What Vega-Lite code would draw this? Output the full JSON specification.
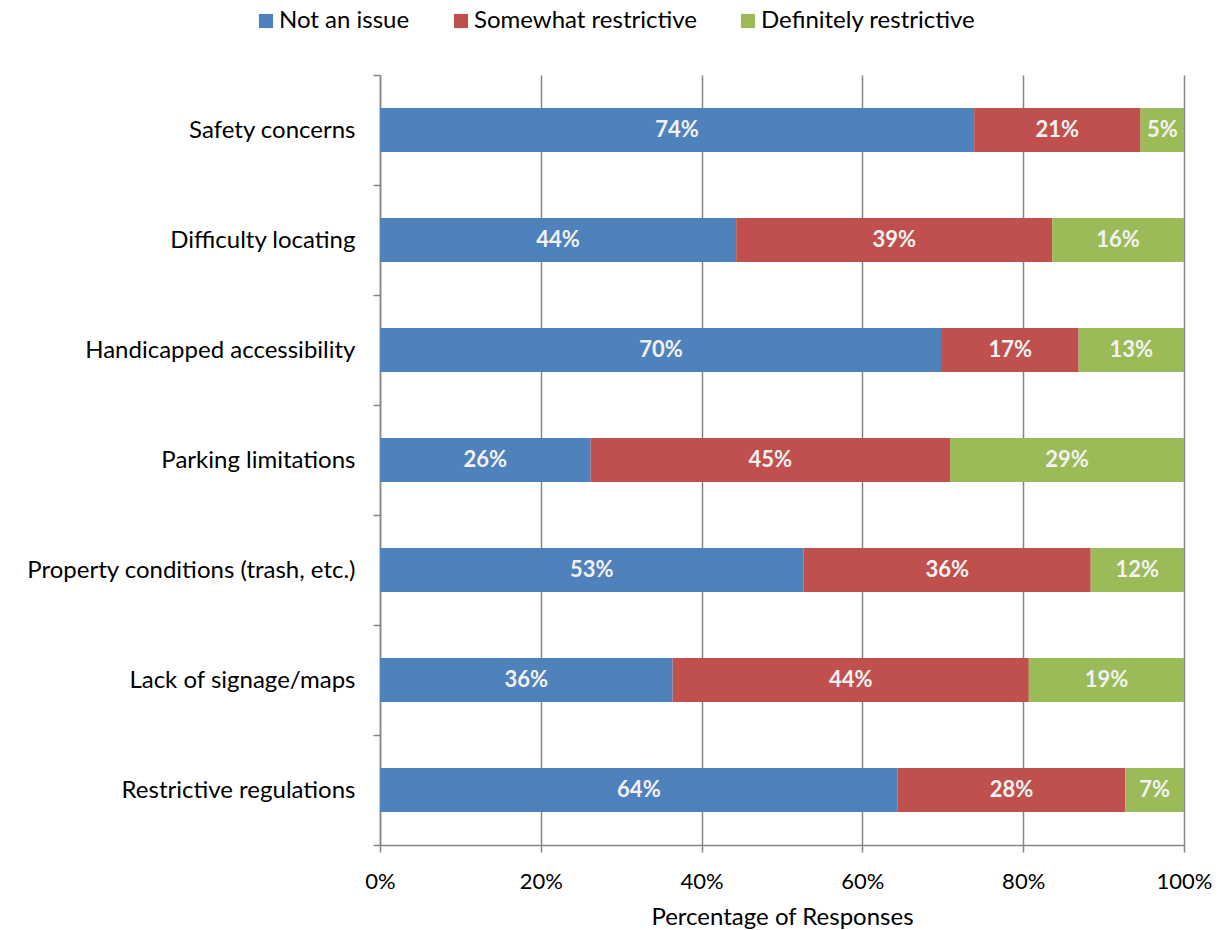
{
  "$schema": "https://vega.github.io/schema/vega-lite/v6.json",
  "autosize": "none",
  "width": 804,
  "height": 770,
  "padding": {"left": 380, "top": 75, "right": 37, "bottom": 85},
  "background": "white",
  "config": {
    "font": "Lato",
    "view": {"stroke": null}
  },
  "data": {
    "values": [
      {"factor": "Safety concerns", "response": "Not an issue", "order": 1, "share": 0.739},
      {"factor": "Safety concerns", "response": "Somewhat restrictive", "order": 2, "share": 0.207},
      {"factor": "Safety concerns", "response": "Definitely restrictive", "order": 3, "share": 0.054},
      {"factor": "Difficulty locating", "response": "Not an issue", "order": 1, "share": 0.443},
      {"factor": "Difficulty locating", "response": "Somewhat restrictive", "order": 2, "share": 0.393},
      {"factor": "Difficulty locating", "response": "Definitely restrictive", "order": 3, "share": 0.164},
      {"factor": "Handicapped accessibility", "response": "Not an issue", "order": 1, "share": 0.699},
      {"factor": "Handicapped accessibility", "response": "Somewhat restrictive", "order": 2, "share": 0.170},
      {"factor": "Handicapped accessibility", "response": "Definitely restrictive", "order": 3, "share": 0.131},
      {"factor": "Parking limitations", "response": "Not an issue", "order": 1, "share": 0.262},
      {"factor": "Parking limitations", "response": "Somewhat restrictive", "order": 2, "share": 0.447},
      {"factor": "Parking limitations", "response": "Definitely restrictive", "order": 3, "share": 0.291},
      {"factor": "Property conditions (trash, etc.)", "response": "Not an issue", "order": 1, "share": 0.527},
      {"factor": "Property conditions (trash, etc.)", "response": "Somewhat restrictive", "order": 2, "share": 0.357},
      {"factor": "Property conditions (trash, etc.)", "response": "Definitely restrictive", "order": 3, "share": 0.116},
      {"factor": "Lack of signage/maps", "response": "Not an issue", "order": 1, "share": 0.364},
      {"factor": "Lack of signage/maps", "response": "Somewhat restrictive", "order": 2, "share": 0.443},
      {"factor": "Lack of signage/maps", "response": "Definitely restrictive", "order": 3, "share": 0.193},
      {"factor": "Restrictive regulations", "response": "Not an issue", "order": 1, "share": 0.644},
      {"factor": "Restrictive regulations", "response": "Somewhat restrictive", "order": 2, "share": 0.283},
      {"factor": "Restrictive regulations", "response": "Definitely restrictive", "order": 3, "share": 0.073}
    ]
  },
  "encoding": {
    "y": {
      "field": "factor",
      "type": "nominal",
      "sort": null,
      "scale": {"paddingInner": 0, "paddingOuter": 0},
      "axis": {
        "title": null,
        "tickBand": "extent",
        "labelFontSize": 24,
        "labelColor": "black",
        "labelPadding": 18,
        "labelLimit": 500,
        "domainColor": "#868686",
        "domainWidth": 1.5,
        "tickColor": "#868686",
        "tickWidth": 1.5,
        "tickSize": 7,
        "grid": false
      }
    }
  },
  "layer": [
    {
      "mark": {"type": "bar", "height": {"band": 0.4}},
      "encoding": {
        "x": {
          "field": "share",
          "type": "quantitative",
          "stack": "zero",
          "scale": {"domain": [0, 1], "nice": false},
          "axis": {
            "title": "Percentage of Responses",
            "titleFontSize": 24,
            "titleFontWeight": "normal",
            "titleColor": "black",
            "titlePadding": 13,
            "format": ".0%",
            "values": [0, 0.2, 0.4, 0.6, 0.8, 1],
            "labelFontSize": 22,
            "labelColor": "black",
            "labelPadding": 19,
            "labelFlush": false,
            "grid": true,
            "gridColor": "#868686",
            "gridWidth": 1.5,
            "domainColor": "#868686",
            "domainWidth": 1.5,
            "tickColor": "#868686",
            "tickWidth": 1.5,
            "tickSize": 7
          }
        },
        "order": {"field": "order", "type": "quantitative"},
        "color": {
          "field": "response",
          "type": "nominal",
          "sort": ["Not an issue", "Somewhat restrictive", "Definitely restrictive"],
          "scale": {
            "domain": ["Not an issue", "Somewhat restrictive", "Definitely restrictive"],
            "range": ["#4F81BD", "#C0504D", "#9BBB59"]
          },
          "legend": {
            "title": null,
            "orient": "none",
            "direction": "horizontal",
            "legendX": -126,
            "legendY": -66,
            "symbolType": "square",
            "symbolSize": 200,
            "symbolStrokeWidth": 0,
            "labelFontSize": 24,
            "labelColor": "black",
            "labelLimit": 400,
            "labelOffset": 1,
            "columnPadding": 39
          }
        }
      }
    },
    {
      "mark": {"type": "text", "color": "#F2F2F2", "fontWeight": "bold", "fontSize": 22, "baseline": "middle", "align": "center"},
      "encoding": {
        "x": {"field": "share", "type": "quantitative", "stack": "zero", "bandPosition": 0.5},
        "order": {"field": "order", "type": "quantitative"},
        "text": {"field": "share", "type": "quantitative", "format": ".0%"}
      }
    }
  ]
}
